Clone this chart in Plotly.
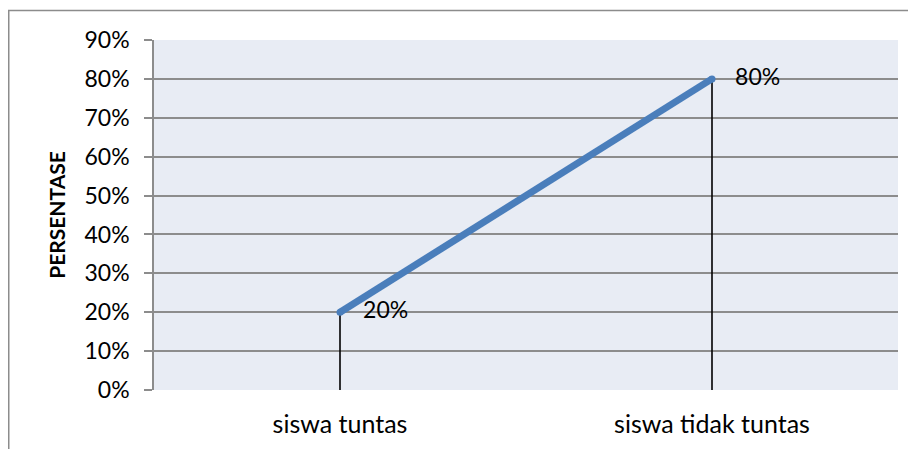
import plotly.graph_objects as go

categories = ["siswa tuntas", "siswa tidak tuntas"]
values = [0.20, 0.80]
labels = ["20%", "80%"]
y_ticks = [0, 0.1, 0.2, 0.3, 0.4, 0.5, 0.6, 0.7, 0.8, 0.9]
y_title = "PERSENTASE"

FONT = "Lato"
FS = 23
W, H = 916, 449
L, T = 146, 32
pw, ph = 744, 350
R = W - L - pw
B = H - T - ph

fig = go.Figure()
# drop lines
fig.add_trace(go.Scatter(
    x=categories, y=values, mode="markers",
    marker=dict(size=0.1, color="rgba(0,0,0,0)"),
    error_y=dict(type="data", symmetric=False, array=[0, 0], arrayminus=values,
                 color="black", thickness=1.6, width=0),
    hoverinfo="skip", showlegend=False))
# main line
fig.add_trace(go.Scatter(
    x=categories, y=values, mode="lines+markers+text",
    line=dict(color="#4A7EBB", width=7),
    marker=dict(size=7, color="#4A7EBB"),
    text=["   " + t for t in labels], textposition="middle right",
    textfont=dict(family=FONT, size=FS, color="black"),
    showlegend=False))

def px(x):
    return (x - L) / pw

def py(y):
    return (T + ph - y) / ph

fig.add_shape(type="rect", xref="paper", yref="paper",
              x0=px(0.75), x1=px(960), y0=py(480), y1=py(2.5),
              line=dict(color="#8c8c8c", width=1.5), layer="below")

fig.update_layout(
    width=W, height=H,
    margin=dict(l=L, r=R, t=T, b=B),
    paper_bgcolor="white", plot_bgcolor="#E8ECF4",
    font=dict(family=FONT, size=FS, color="black"),
    xaxis=dict(type="category", range=[-0.5, 1.5], showgrid=False,
               showline=False, ticks="", ticklabelstandoff=17,
               tickfont=dict(family=FONT, size=25), zeroline=False),
    yaxis=dict(range=[0, 0.9], tickvals=y_ticks, tickformat=".0%",
               showgrid=True, gridcolor="#8c8c8c", gridwidth=1.5,
               showline=True, linecolor="#8c8c8c", linewidth=1.5,
               ticks="outside", ticklen=8, tickcolor="#8c8c8c", tickwidth=1.5,
               ticklabelstandoff=10, zeroline=False,
               tickfont=dict(family=FONT, size=FS),
               title=dict(text="<b>" + y_title + "</b>", standoff=13,
                          font=dict(family=FONT, size=21))),
)
fig.write_html("out.html")
